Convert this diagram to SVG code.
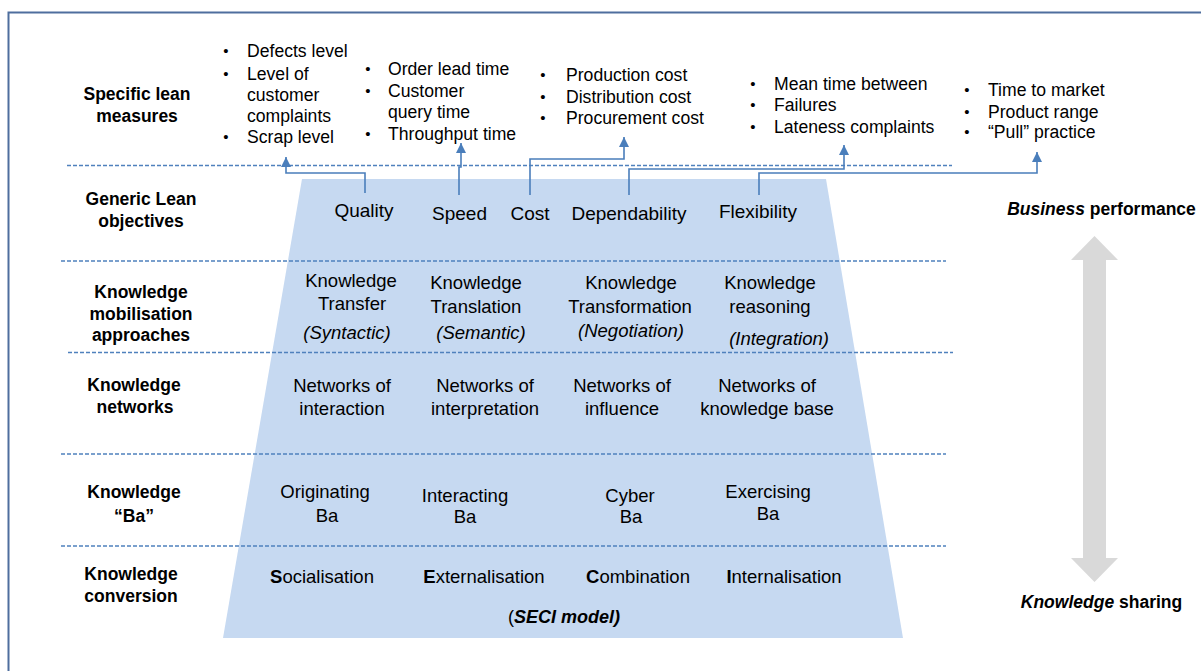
<svg xmlns="http://www.w3.org/2000/svg" width="1201" height="671" viewBox="0 0 1201 671">
<style>
text{font-family:"Liberation Sans",Arial,sans-serif;fill:#000}
.lbl{font-size:17.5px;font-weight:bold;text-anchor:middle}
.in{font-size:18.5px;text-anchor:middle}
.ob{font-size:19px;text-anchor:middle}
.bl{font-size:17.6px}
.bu{font-size:15px;text-anchor:middle}
.it{font-style:italic}
.b{font-weight:bold}
.dash{stroke:#4f81bd;stroke-width:1.3;stroke-dasharray:4 2;fill:none}
.con{stroke:#4a7ebb;stroke-width:1.6;fill:none;marker-end:url(#ah)}
</style>
<defs>
<marker id="ah" markerUnits="userSpaceOnUse" markerWidth="10" markerHeight="10" viewBox="0 0 10 10" refX="10" refY="5" orient="auto">
<path d="M0,0 L10,5 L0,10 z" fill="#4a7ebb"/>
</marker>
</defs>
<rect width="1201" height="671" fill="#fff"/>
<rect x="8.5" y="12.5" width="1220" height="700" fill="none" stroke="#4e6e9e" stroke-width="2"/>
<g id="trapezoid"><polygon points="302,179 826,179 903,638 223,638" fill="#c6d9f1"/></g>
<g id="dividers">
<line class="dash" x1="67" y1="165.5" x2="952" y2="165.5"/>
<line class="dash" x1="61" y1="261" x2="946" y2="261"/>
<line class="dash" x1="68" y1="352.5" x2="953" y2="352.5"/>
<line class="dash" x1="61" y1="454" x2="946" y2="454"/>
<line class="dash" x1="61" y1="546" x2="946" y2="546"/>
</g>
<g id="row-labels">
<text class="lbl" x="137" y="100">Specific lean</text>
<text class="lbl" x="137" y="122">measures</text>
<text class="lbl" x="141" y="205">Generic Lean</text>
<text class="lbl" x="141" y="227">objectives</text>
<text class="lbl" x="141" y="298">Knowledge</text>
<text class="lbl" x="141" y="320">mobilisation</text>
<text class="lbl" x="141" y="341">approaches</text>
<text class="lbl" x="134" y="391">Knowledge</text>
<text class="lbl" x="135" y="413">networks</text>
<text class="lbl" x="134" y="498">Knowledge</text>
<text class="lbl" x="134" y="522">“Ba”</text>
<text class="lbl" x="131" y="580">Knowledge</text>
<text class="lbl" x="131" y="602">conversion</text>
</g>
<g id="measures-quality">
<text class="bu" x="226" y="56">•</text><text class="bl" x="247" y="57">Defects level</text>
<text class="bu" x="226" y="79">•</text><text class="bl" x="247" y="80">Level of</text>
<text class="bl" x="247" y="101">customer</text>
<text class="bl" x="247" y="122">complaints</text>
<text class="bu" x="226" y="142">•</text><text class="bl" x="247" y="143">Scrap level</text>
</g>
<g id="measures-speed">
<text class="bu" x="368" y="74">•</text><text class="bl" x="388" y="75">Order lead time</text>
<text class="bu" x="368" y="96">•</text><text class="bl" x="388" y="97">Customer</text>
<text class="bl" x="388" y="118">query time</text>
<text class="bu" x="368" y="139">•</text><text class="bl" x="388" y="140">Throughput time</text>
</g>
<g id="measures-cost">
<text class="bu" x="543" y="80">•</text><text class="bl" x="566" y="81">Production cost</text>
<text class="bu" x="543" y="102">•</text><text class="bl" x="566" y="103">Distribution cost</text>
<text class="bu" x="543" y="123">•</text><text class="bl" x="566" y="124">Procurement cost</text>
</g>
<g id="measures-dependability">
<text class="bu" x="753" y="89">•</text><text class="bl" x="774" y="90">Mean time between</text>
<text class="bu" x="753" y="110">•</text><text class="bl" x="774" y="111">Failures</text>
<text class="bu" x="753" y="132">•</text><text class="bl" x="774" y="133">Lateness complaints</text>
</g>
<g id="measures-flexibility">
<text class="bu" x="967" y="95">•</text><text class="bl" x="988" y="96">Time to market</text>
<text class="bu" x="967" y="117">•</text><text class="bl" x="988" y="118">Product range</text>
<text class="bu" x="967" y="137">•</text><text class="bl" x="988" y="138">“Pull” practice</text>
</g>
<g id="connectors">
<path class="con" d="M365 193 V173 H286 V157"/>
<path class="con" d="M459 195 V167 H461 V143"/>
<path class="con" d="M530 195 V159 H624 V137"/>
<path class="con" d="M629 195 V169 H844 V145"/>
<path class="con" d="M759 195 V173 H1037 V152"/>
</g>
<g id="obj-quality"><text class="ob" x="364" y="217">Quality</text></g>
<g id="obj-speed"><text class="ob" x="459.5" y="220">Speed</text></g>
<g id="obj-cost"><text class="ob" x="530" y="220">Cost</text></g>
<g id="obj-dependability"><text class="ob" x="629" y="220">Dependability</text></g>
<g id="obj-flexibility"><text class="ob" x="758" y="218">Flexibility</text></g>
<g id="mob-transfer">
<text class="in" x="351" y="287">Knowledge</text>
<text class="in" x="352" y="310">Transfer</text>
<text class="in it" x="347" y="339">(Syntactic)</text>
</g>
<g id="mob-translation">
<text class="in" x="476" y="289">Knowledge</text>
<text class="in" x="476" y="313">Translation</text>
<text class="in it" x="481" y="339">(Semantic)</text>
</g>
<g id="mob-transformation">
<text class="in" x="631" y="289">Knowledge</text>
<text class="in" x="630" y="313">Transformation</text>
<text class="in it" x="631" y="337">(Negotiation)</text>
</g>
<g id="mob-reasoning">
<text class="in" x="770" y="289">Knowledge</text>
<text class="in" x="770" y="313">reasoning</text>
<text class="in it" x="779" y="345">(Integration)</text>
</g>
<g id="net-interaction">
<text class="in" x="342" y="392">Networks of</text>
<text class="in" x="342" y="415">interaction</text>
</g>
<g id="net-interpretation">
<text class="in" x="485" y="392">Networks of</text>
<text class="in" x="485" y="415">interpretation</text>
</g>
<g id="net-influence">
<text class="in" x="622" y="392">Networks of</text>
<text class="in" x="622" y="415">influence</text>
</g>
<g id="net-knowledge-base">
<text class="in" x="767" y="392">Networks of</text>
<text class="in" x="767" y="415">knowledge base</text>
</g>
<g id="ba-originating">
<text class="in" x="325" y="498">Originating</text>
<text class="in" x="327" y="522">Ba</text>
</g>
<g id="ba-interacting">
<text class="in" x="465" y="502">Interacting</text>
<text class="in" x="465" y="523">Ba</text>
</g>
<g id="ba-cyber">
<text class="in" x="630" y="502">Cyber</text>
<text class="in" x="631" y="523">Ba</text>
</g>
<g id="ba-exercising">
<text class="in" x="768" y="498">Exercising</text>
<text class="in" x="768" y="520">Ba</text>
</g>
<g id="seci-s"><text class="in" x="322" y="583"><tspan class="b">S</tspan>ocialisation</text></g>
<g id="seci-e"><text class="in" x="484" y="583"><tspan class="b">E</tspan>xternalisation</text></g>
<g id="seci-c"><text class="in" x="638" y="583"><tspan class="b">C</tspan>ombination</text></g>
<g id="seci-i"><text class="in" x="784" y="583"><tspan class="b">I</tspan>nternalisation</text></g>
<g id="seci-model"><text class="in" x="564" y="623" style="font-size:18px">(<tspan class="b it">SECI model)</tspan></text></g>
<g id="axis">
<polygon points="1094.5,236 1118,260 1106,260 1106,558 1118,558 1094.5,582 1071,558 1083,558 1083,260 1071,260" fill="#d9d9d9"/>
<text class="lbl" x="1101.5" y="215"><tspan class="it">Business</tspan> performance</text>
<text class="lbl" x="1101.5" y="608"><tspan class="it">Knowledge</tspan> sharing</text>
</g>
</svg>
